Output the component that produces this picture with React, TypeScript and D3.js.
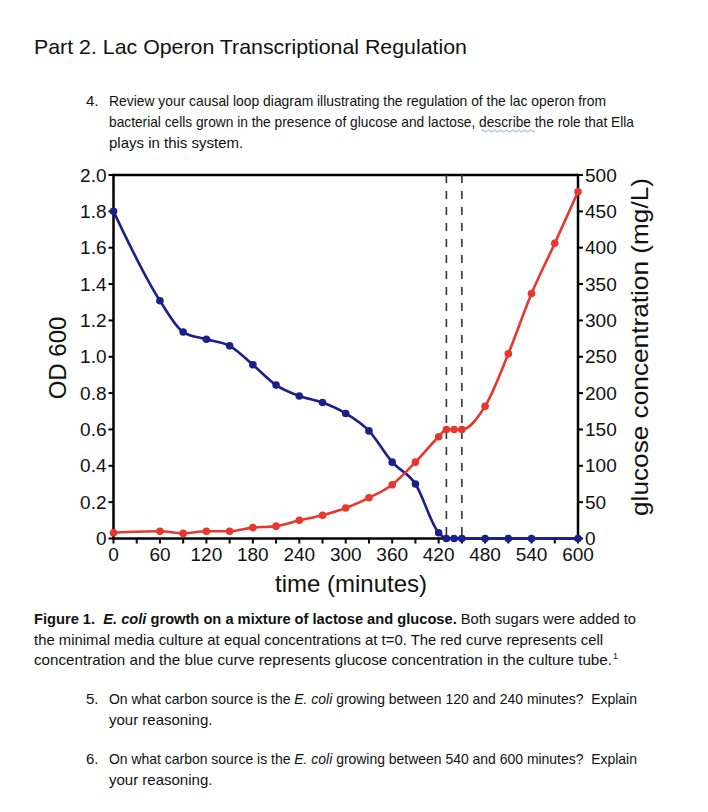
import React from "react";
import * as d3 from "d3";

// ---------- data ----------
const redTimes = [0, 60, 90, 120, 150, 180, 210, 240, 270, 300, 330, 360, 390, 420, 430, 440, 450, 480, 510, 540, 570, 600];
const redOD = [0.032, 0.04, 0.028, 0.04, 0.04, 0.06, 0.068, 0.1, 0.128, 0.168, 0.224, 0.296, 0.42, 0.56, 0.6, 0.6, 0.6, 0.728, 1.016, 1.348, 1.624, 1.908];
const blueTimes = [0, 60, 90, 120, 150, 180, 210, 240, 270, 300, 330, 360, 390, 420, 430, 440, 450, 480, 510, 540, 600];
const blueGlucose = [450, 327, 284, 274, 265, 239, 211, 196, 187, 172, 148, 105, 75, 8, 0, 0, 0, 0, 0, 0, 0];
const xTickValues = [0, 30, 60, 90, 120, 150, 180, 210, 240, 270, 300, 330, 360, 390, 420, 450, 480, 510, 540, 570, 600];
const xTickLabels = ["0", "60", "120", "180", "240", "300", "360", "420", "480", "540", "600"];
const leftTickLabels = ["0", "0.2", "0.4", "0.6", "0.8", "1.0", "1.2", "1.4", "1.6", "1.8", "2.0"];
const rightTickLabels = ["0", "50", "100", "150", "200", "250", "300", "350", "400", "450", "500"];
const dashTimes = [430, 450];

const FONT = "'Liberation Sans', Arial, Helvetica, sans-serif";
const RED = "#e8382e";
const BLUE = "#1a1f8c";

export default function App() {
  const x = d3.scaleLinear().domain([0, 600]).range([113.5, 578]);
  const yL = d3.scaleLinear().domain([0, 2]).range([538.5, 175]);
  const yR = d3.scaleLinear().domain([0, 500]).range([538.5, 175]);

  const redData = redTimes.map((t, i) => [t, redOD[i]] as [number, number]);
  const blueData = blueTimes.map((t, i) => [t, blueGlucose[i]] as [number, number]);

  const redLine = d3.line<[number, number]>().x(d => x(d[0])).y(d => yL(d[1])).curve(d3.curveMonotoneX);
  const blueLine = d3.line<[number, number]>().x(d => x(d[0])).y(d => yR(d[1])).curve(d3.curveMonotoneX);

  const [x0, x1] = x.range();
  const [yB, yT] = yL.range();

  const bodyStyle = { fontFamily: FONT, fontSize: 15, fill: "#111", whiteSpace: "pre" } as any;

  return (
    <svg width={708} height={812} style={{ position: "absolute", left: 0, top: 0, background: "#fff" }}>
      {/* Title */}
      <text x={34} y={53.5} style={{ fontFamily: FONT, fontSize: 21, fill: "#111" }} textLength={433} lengthAdjust="spacingAndGlyphs">
        Part 2. Lac Operon Transcriptional Regulation
      </text>

      {/* Question 4 */}
      <text x={86} y={106} style={bodyStyle}>4.</text>
      <text x={109} y={106} style={bodyStyle} textLength={497} lengthAdjust="spacingAndGlyphs">
        Review your causal loop diagram illustrating the regulation of the lac operon from
      </text>
      <text x={109} y={127} style={bodyStyle} textLength={525} lengthAdjust="spacingAndGlyphs">
        bacterial cells grown in the presence of glucose and lactose, describe the role that Ella
      </text>
      <path d="M481,131 q1.5,-2 3,0 t3,0 t3,0 t3,0 t3,0 t3,0 t3,0 t3,0 t3,0 t3,0 t3,0 t3,0 t3,0 t3,0 t3,0 t3,0 t3,0 t3,0" fill="none" stroke="#6f8fd8" strokeWidth={0.8} />
      <text x={109} y={148} style={bodyStyle}>plays in this system.</text>

      {/* Chart frame */}
      <g stroke="#000" strokeWidth={2.5} fill="none">
        <line x1={x0} x2={x0} y1={yT - 1.25} y2={yB + 1.25} />
        <line x1={x1} x2={x1} y1={yT - 1.25} y2={yB + 1.25} />
        <line x1={x0} x2={x1} y1={yT} y2={yT} />
        <line x1={x0} x2={x1} y1={yB} y2={yB} />
      </g>

      {/* x ticks */}
      <g stroke="#000" strokeWidth={2}>
        {xTickValues.map(v => (
          <line key={v} x1={x(v)} x2={x(v)} y1={yB} y2={yB + 5} />
        ))}
      </g>
      {xTickLabels.map(l => (
        <text key={l} x={x(+l)} y={561} textAnchor="middle" style={{ fontFamily: FONT, fontSize: 19, fill: "#111" }}>{l}</text>
      ))}

      {/* left ticks */}
      {leftTickLabels.map(l => (
        <g key={l}>
          <line x1={x0 - 5} x2={x0} y1={yL(+l)} y2={yL(+l)} stroke="#000" strokeWidth={2} />
          <text x={106.5} y={yL(+l)} dy="0.35em" textAnchor="end" style={{ fontFamily: FONT, fontSize: 19, fill: "#111" }}>{l}</text>
        </g>
      ))}

      {/* right ticks */}
      {rightTickLabels.map(l => (
        <g key={l}>
          <line x1={x1} x2={x1 + 5} y1={yR(+l)} y2={yR(+l)} stroke="#000" strokeWidth={2} />
          <text x={585} y={yR(+l)} dy="0.35em" textAnchor="start" style={{ fontFamily: FONT, fontSize: 19, fill: "#111" }}>{l}</text>
        </g>
      ))}

      {/* dashed lines */}
      {dashTimes.map(t => (
        <line key={t} x1={x(t)} x2={x(t)} y1={yT} y2={yB} stroke="#333" strokeWidth={1.6} strokeDasharray="8,8" />
      ))}

      {/* series */}
      <path d={blueLine(blueData) || ""} fill="none" stroke={BLUE} strokeWidth={2.6} />
      {blueData.map((d, i) => (
        <circle key={"b" + i} cx={x(d[0])} cy={yR(d[1])} r={3.8} fill={BLUE} />
      ))}
      <path d={redLine(redData) || ""} fill="none" stroke={RED} strokeWidth={2.6} />
      {redData.map((d, i) => (
        <circle key={"r" + i} cx={x(d[0])} cy={yL(d[1])} r={3.8} fill={RED} />
      ))}

      {/* axis titles */}
      <text transform="translate(57.5,358) rotate(-90)" textAnchor="middle" dy="0.35em" style={{ fontFamily: FONT, fontSize: 24, fill: "#111" }}>OD 600</text>
      <text transform="translate(640,347) rotate(-90)" textAnchor="middle" dy="0.35em" style={{ fontFamily: FONT, fontSize: 24, fill: "#111" }} textLength={338} lengthAdjust="spacingAndGlyphs">glucose concentration (mg/L)</text>
      <text x={351} y={592} textAnchor="middle" style={{ fontFamily: FONT, fontSize: 24, fill: "#111" }}>time (minutes)</text>

      {/* Caption */}
      <text x={34} y={624} style={bodyStyle} textLength={602} lengthAdjust="spacingAndGlyphs">
        <tspan fontWeight="bold">{"Figure 1.  "}</tspan>
        <tspan fontWeight="bold" fontStyle="italic">E. coli</tspan>
        <tspan fontWeight="bold">{" growth on a mixture of lactose and glucose."}</tspan>
        <tspan>{" Both sugars were added to"}</tspan>
      </text>
      <text x={34} y={645} style={bodyStyle} textLength={569} lengthAdjust="spacingAndGlyphs">
        the minimal media culture at equal concentrations at t=0. The red curve represents cell
      </text>
      <text x={34} y={665} style={bodyStyle} textLength={578} lengthAdjust="spacingAndGlyphs">
        concentration and the blue curve represents glucose concentration in the culture tube.
      </text>
      <text x={613} y={659} style={{ fontFamily: FONT, fontSize: 9, fill: "#111" }}>1</text>

      {/* Question 5 */}
      <text x={86} y={704} style={bodyStyle}>5.</text>
      <text x={109} y={704} style={bodyStyle} textLength={528} lengthAdjust="spacingAndGlyphs">
        <tspan>{"On what carbon source is the "}</tspan>
        <tspan fontStyle="italic">E. coli</tspan>
        <tspan>{" growing between 120 and 240 minutes?  Explain"}</tspan>
      </text>
      <text x={109} y={725} style={bodyStyle}>your reasoning.</text>

      {/* Question 6 */}
      <text x={86} y={764} style={bodyStyle}>6.</text>
      <text x={109} y={764} style={bodyStyle} textLength={528} lengthAdjust="spacingAndGlyphs">
        <tspan>{"On what carbon source is the "}</tspan>
        <tspan fontStyle="italic">E. coli</tspan>
        <tspan>{" growing between 540 and 600 minutes?  Explain"}</tspan>
      </text>
      <text x={109} y={785} style={bodyStyle}>your reasoning.</text>
    </svg>
  );
}
